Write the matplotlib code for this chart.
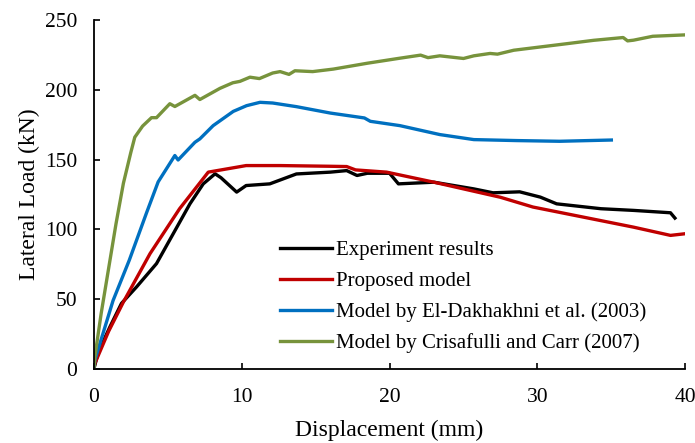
import matplotlib
matplotlib.use('Agg')
import matplotlib.pyplot as plt

# values (displacement mm, load kN)
exp_x = [0, 0.3, 1.08, 1.87, 2.89, 4.24, 5.37, 6.5, 7.4, 8.2, 8.6, 9.66, 10.3, 11.9,
         13.7, 16.0, 17.1, 17.8, 18.5, 20.0, 20.6, 23.0, 25.7, 27.0, 28.8, 30.2, 31.3,
         34.3, 36.5, 39.0, 39.3]
exp_y = [0, 12, 30, 47, 58.8, 75.5, 96.9, 118.3, 132.6, 139.8, 137, 126.7, 131.4, 132.6,
         139.7, 141, 142.1, 138.6, 140.2, 140.2, 132.6, 133.8, 129, 126.2, 126.9, 123.1,
         118.3, 114.8, 113.6, 111.9, 108.1]

prop_x = [0, 0.07, 1.0, 2.0, 3.8, 5.8, 7.74, 10.3, 12.6, 16.0, 17.1, 17.7, 19.8, 23.0,
          27.5, 29.7, 33.1, 36.5, 39.0, 40.0]
prop_y = [0, 4, 27, 48, 82.6, 114.8, 141, 145.7, 145.7, 145.2, 145, 142.6, 141, 133.8,
          123, 116, 108.8, 101.6, 95.7, 96.9]

eld_x = [0, 0.07, 1.3, 2.4, 3.57, 4.35, 5.48, 5.7, 6.84, 7.17, 8.07, 9.43, 10.33, 11.24,
         12.1, 13.7, 16.0, 18.3, 18.7, 20.7, 23.4, 25.7, 28.6, 31.5, 35.0]
eld_y = [0, 6.4, 49, 78, 112, 134, 152.9, 149.7, 162.4, 164.8, 174.3, 184.5, 188.6, 191,
         190.5, 187.9, 183.3, 179.8, 177.4, 174.3, 167.9, 164.3, 163.6, 163.1, 164]

cc_x = [0, 0.07, 0.5, 1.0, 1.5, 2.0, 2.5, 2.77, 3.3, 3.9, 4.24, 5.14, 5.48, 6.84, 7.17,
        8.53, 9.4, 9.88, 10.56, 11.2, 12.1, 12.6, 13.2, 13.6, 14.8, 16.2, 18.5, 20.7, 22.1,
        22.6, 23.4, 25.0, 25.7, 26.8, 27.3, 28.4, 29.7, 32.0, 33.8, 35.8, 36.1, 36.5,
        37.8, 40.0]
cc_y = [0, 8.8, 40, 72, 104, 133, 155, 166, 174, 180, 180, 190, 188, 196, 193,
        201, 205, 206, 209, 208, 212, 213, 211, 213.6, 213, 214.8, 219, 222.6, 224.8,
        223, 224.3, 222.4, 224.3, 226, 225.5, 228.3, 230, 233, 235.4, 237.4, 235, 235.5,
        238.3, 239.3]

labels = ['Experiment results', 'Proposed model',
          'Model by El-Dakhakhni et al. (2003)', 'Model by Crisafulli and Carr (2007)']
colors = ['#000000', '#C00000', '#0070C0', '#77933C']

plt.rcParams['font.family'] = ['Liberation Serif', 'DejaVu Serif']

fig = plt.figure(figsize=(6.95, 4.43), dpi=100)
ax = fig.add_axes([0.135, 0.167, 0.851, 0.788])

ax.plot(exp_x, exp_y, color=colors[0], lw=2.4, label=labels[0])
ax.plot(prop_x, prop_y, color=colors[1], lw=2.4, label=labels[1])
ax.plot(eld_x, eld_y, color=colors[2], lw=2.4, label=labels[2])
ax.plot(cc_x, cc_y, color=colors[3], lw=2.4, label=labels[3])

ax.set_xlim(0, 40)
ax.set_ylim(0, 250)
ax.set_xticks([0, 10, 20, 30, 40])
ax.set_yticks([0, 50, 100, 150, 200, 250])
ax.spines['top'].set_visible(False)
ax.spines['right'].set_visible(False)
ax.spines['left'].set_linewidth(1.3)
ax.spines['bottom'].set_linewidth(1.3)
ax.tick_params(axis='x', direction='in', length=4.5, width=1.2, labelsize=15.5, pad=14)
ax.tick_params(axis='y', direction='in', length=4.5, width=1.2, labelsize=15.5, pad=12)
ax.set_xlabel('Displacement (mm)', fontsize=17, labelpad=9)
ax.set_ylabel('Lateral Load (kN)', fontsize=17, labelpad=3)

ax.legend(loc='lower left', bbox_to_anchor=(0.315, 0.045), frameon=False,
          fontsize=15, handlelength=2.5, handletextpad=0.2, labelspacing=0.54,
          borderpad=0, borderaxespad=0)

fig.savefig('out.png', dpi=100)
